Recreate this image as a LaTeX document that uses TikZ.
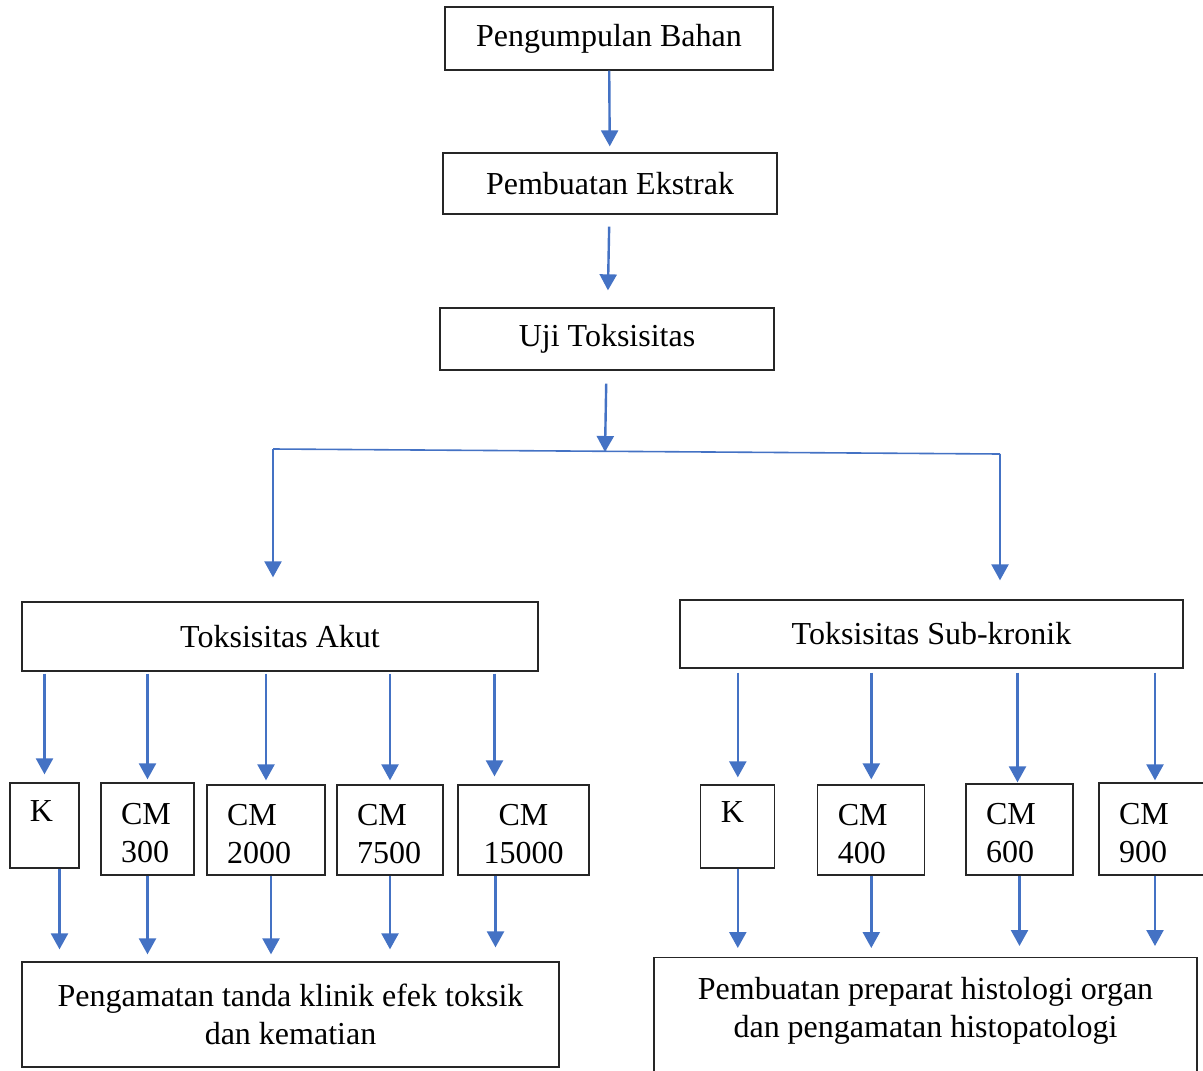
\documentclass[tikz,border=0pt]{standalone}
\usepackage{fontspec}
\setmainfont{Liberation Serif}
\usetikzlibrary{arrows.meta}
\definecolor{arrblue}{HTML}{4472C4}
\newcommand{\dosestrut}{\rule{0pt}{29pt}}
\tikzset{%
    box/.style={draw=black!85, line width=1.3pt, inner sep=0pt, font=\fontsize{32}{38}\selectfont},
    dose/.style={box, align=left, inner xsep=20pt},
    arr/.style={draw=arrblue, line width=2.4pt, -{Triangle[width=17pt,length=16pt]}},
    splitline/.style={draw=arrblue, line width=1.6pt}
}

\begin{document}
\begin{tikzpicture}[x=1pt,y=-1pt]
        \clip (0,0) rectangle (1203,1071);

        \node[box, minimum width=328, minimum height=63] (bahan) at (609,38.5) {Pengumpulan Bahan};
        \node[box, minimum width=334, minimum height=61] (ekstrak) at (610,183.5) {Pembuatan Ekstrak};
        \node[box, minimum width=334, minimum height=62] (uji) at (607,339) {Uji Toksisitas};

        \coordinate (split) at (605,452);
        \coordinate (sl) at (273,449);
        \coordinate (sr) at (1000,454);

        \node[box, minimum width=516, minimum height=69] (akut) at (280,636.5) {Toksisitas Akut};
        \node[box, minimum width=503, minimum height=68] (subkronik) at (931.5,634) {Toksisitas Sub-kronik};

        % dosis akut
        \node[dose, text width=29, minimum height=85] (akK) at (44.5,825.5) {\dosestrut K\\\mbox{}};
        \node[dose, text width=53, minimum height=92] (ak300) at (147.5,829) {\dosestrut CM\\300};
        \node[dose, text width=78, minimum height=90] (ak2000) at (266,830) {\dosestrut CM\\2000};
        \node[dose, text width=66, minimum height=90] (ak7500) at (390,830) {\dosestrut CM\\7500};
        \node[dose, align=center, text width=91, minimum height=90] (ak15000) at (523.5,830) {\dosestrut CM\\15000};

        % dosis sub-kronik
        \node[dose, text width=34, minimum height=83] (skK) at (737.8,826.5) {\dosestrut K\\\mbox{}};
        \node[dose, text width=67, minimum height=90] (sk400) at (871.3,830) {\dosestrut CM\\400};
        \node[dose, text width=67, minimum height=91] (sk600) at (1019.5,829.5) {\dosestrut CM\\600};
        \node[dose, text width=72, minimum height=92] (sk900) at (1155,829) {\dosestrut CM\\900};

        \node[box, align=center, minimum width=537, minimum height=105] (amatakut) at (290.5,1014.5)
            {Pengamatan tanda klinik efek toksik\\dan kematian};
        \node[box, align=center, anchor=north, minimum width=543, inner ysep=20pt, text depth=100pt] (amatsub) at (925.5,957)
            {Pembuatan preparat histologi organ\\dan pengamatan histopatologi};

        \draw[arr, shorten >=6pt] (bahan) -- (ekstrak);
        \draw[arr, shorten <=12pt, shorten >=17pt] (ekstrak) -- (uji);
        \draw[arr, shorten <=13pt] (uji) -- (split);

        \draw[splitline] (sl) -- (sr);
        \draw[arr, shorten >=24pt] (sl) -- (sl |- akut.north);
        \draw[arr, shorten >=19pt] (sr) -- (sr |- subkronik.north);

        \draw[arr, shorten <=2pt, shorten >=8pt] (akut.south -| akK.north) -- (akK.north);
        \draw[arr, shorten <=2pt, shorten >=3pt] (akut.south -| ak300.north) -- (ak300.north);
        \draw[arr, shorten <=2pt, shorten >=4pt] (akut.south -| ak2000.north) -- (ak2000.north);
        \draw[arr, shorten <=2pt, shorten >=4pt] (akut.south -| ak7500.north) -- (ak7500.north);
        \draw[arr, shorten <=2pt, shorten >=8pt] ([xshift=-29pt]akut.south -| ak15000.north) -- ([xshift=-29pt]ak15000.north);

        \draw[arr, shorten <=4pt, shorten >=7pt] (subkronik.south -| skK.north) -- (skK.north);
        \draw[arr, shorten <=4pt, shorten >=5pt] (subkronik.south -| sk400.north) -- (sk400.north);
        \draw[arr, shorten <=4pt, shorten >=1pt] ([xshift=-2pt]subkronik.south -| sk600.north) -- ([xshift=-2pt]sk600.north);
        \draw[arr, shorten <=4pt, shorten >=2pt] (subkronik.south -| sk900.north) -- (sk900.north);

        \draw[arr, shorten >=12pt] ([xshift=15pt]akK.south) -- ([xshift=15pt]akK.south |- amatakut.north);
        \draw[arr, shorten >=7pt] (ak300.south) -- (ak300.south |- amatakut.north);
        \draw[arr, shorten >=7pt] ([xshift=5pt]ak2000.south) -- ([xshift=5pt]ak2000.south |- amatakut.north);
        \draw[arr, shorten >=12pt] (ak7500.south) -- (ak7500.south |- amatakut.north);
        \draw[arr, shorten >=14pt] ([xshift=-28pt]ak15000.south) -- ([xshift=-28pt]ak15000.south |- amatakut.north);

        \draw[arr, shorten >=9pt] (skK.south) -- (skK.south |- amatsub.north);
        \draw[arr, shorten >=9pt] (sk400.south) -- (sk400.south |- amatsub.north);
        \draw[arr, shorten >=11pt] (sk600.south) -- (sk600.south |- amatsub.north);
        \draw[arr, shorten >=11pt] (sk900.south) -- (sk900.south |- amatsub.north);
\end{tikzpicture}
\end{document}
